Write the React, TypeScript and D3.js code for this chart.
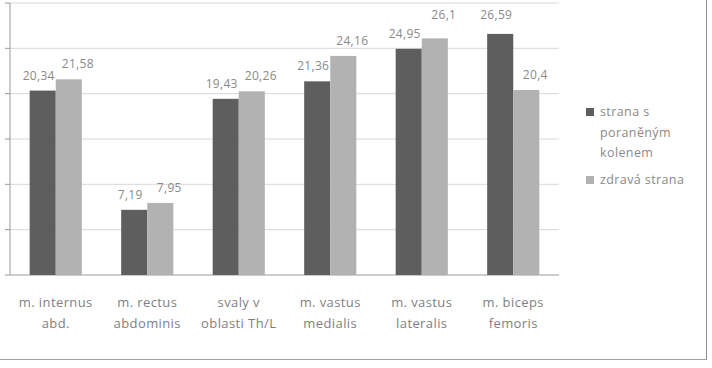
import * as d3 from 'd3';

const categories = [
  ['m. internus', 'abd.'],
  ['m. rectus', 'abdominis'],
  ['svaly v', 'oblasti Th/L'],
  ['m. vastus', 'medialis'],
  ['m. vastus', 'lateralis'],
  ['m. biceps', 'femoris'],
];
const seriesNames = ['strana s poraněným kolenem', 'zdravá strana'];
const injured = [20.34, 7.19, 19.43, 21.36, 24.95, 26.59];
const healthy = [21.58, 7.95, 20.26, 24.16, 26.1, 20.4];
const yTicks = [0, 5, 10, 15, 20, 25, 30];

const colors = ['#5e5e5e', '#b2b2b2'];
const fmt = (v: number) => String(v).replace('.', ',');

export default function App() {
  const width = 712;
  const height = 368;
  const plot = { left: 10, right: 559, top: 3, bottom: 275 };

  const x0 = d3
    .scaleBand<number>()
    .domain(d3.range(categories.length))
    .range([plot.left, plot.right])
    .paddingInner(0.43)
    .paddingOuter(0.215);
  const x1 = d3.scaleBand<number>().domain([0, 1]).range([0, x0.bandwidth()]);
  const y = d3.scaleLinear().domain([0, 30]).range([plot.bottom, plot.top]);

  const series = [injured, healthy];
  const labelShift = [-4, 9];
  const font = "'Open Sans', 'DejaVu Sans', sans-serif";

  return (
    <svg
      width={width}
      height={height}
      style={{ position: 'absolute', left: 0, top: 0, background: '#fff' }}
      fontFamily={font}
    >
      {/* gridlines */}
      {yTicks.slice(1).map((t) => (
        <line key={t} x1={plot.left} x2={plot.right} y1={y(t)} y2={y(t)} stroke="#d9d9d9" strokeWidth={1} />
      ))}
      {/* axis + ticks */}
      <line x1={plot.left} x2={plot.left} y1={plot.top} y2={plot.bottom} stroke="#9a9a9a" />
      {yTicks.map((t) => (
        <line key={t} x1={plot.left - 5} x2={plot.left} y1={y(t)} y2={y(t)} stroke="#9a9a9a" />
      ))}
      <line x1={plot.left} x2={plot.right} y1={plot.bottom} y2={plot.bottom} stroke="#9a9a9a" />

      {/* bars */}
      {series.map((vals, si) =>
        vals.map((v, i) => {
          const bx = (x0(i) ?? 0) + (x1(si) ?? 0);
          return (
            <g key={`${si}-${i}`}>
              <rect x={bx} y={y(v)} width={x1.bandwidth()} height={plot.bottom - y(v)} fill={colors[si]} />
              <text
                x={bx + x1.bandwidth() / 2 + labelShift[si]}
                y={Math.min(y(v) - 11, v > 26 ? 19 : 999)}
                textAnchor="middle"
                fontSize={12}
                letterSpacing={0.3}
                fill="#8a8a8a"
              >
                {fmt(v)}
              </text>
            </g>
          );
        })
      )}

      {/* category labels */}
      {categories.map((lines, i) => (
        <text
          key={i}
          x={(x0(i) ?? 0) + x0.bandwidth() / 2}
          textAnchor="middle"
          fontSize={13}
          letterSpacing={0.4}
          fill="#7f7f7f"
        >
          {lines.map((l, k) => (
            <tspan key={k} x={(x0(i) ?? 0) + x0.bandwidth() / 2} y={307 + k * 21}>
              {l}
            </tspan>
          ))}
        </text>
      ))}

      {/* legend */}
      <rect x={586} y={108} width={8} height={8} fill={colors[0]} />
      <text fontSize={12.5} letterSpacing={0.4} fill="#8a8a8a">
        <tspan x={600} y={116}>strana s</tspan>
        <tspan x={600} y={137}>poraněným</tspan>
        <tspan x={600} y={157}>kolenem</tspan>
      </text>
      <rect x={586} y={176} width={8} height={8} fill={colors[1]} />
      <text x={600} y={184} fontSize={12.5} letterSpacing={0.4} fill="#8a8a8a">
        zdravá strana
      </text>

      {/* frame */}
      <line x1={706.5} x2={706.5} y1={0} y2={360} stroke="#8c8c8c" />
      <line x1={0} x2={707} y1={359.5} y2={359.5} stroke="#a0a0a0" />
    </svg>
  );
}
